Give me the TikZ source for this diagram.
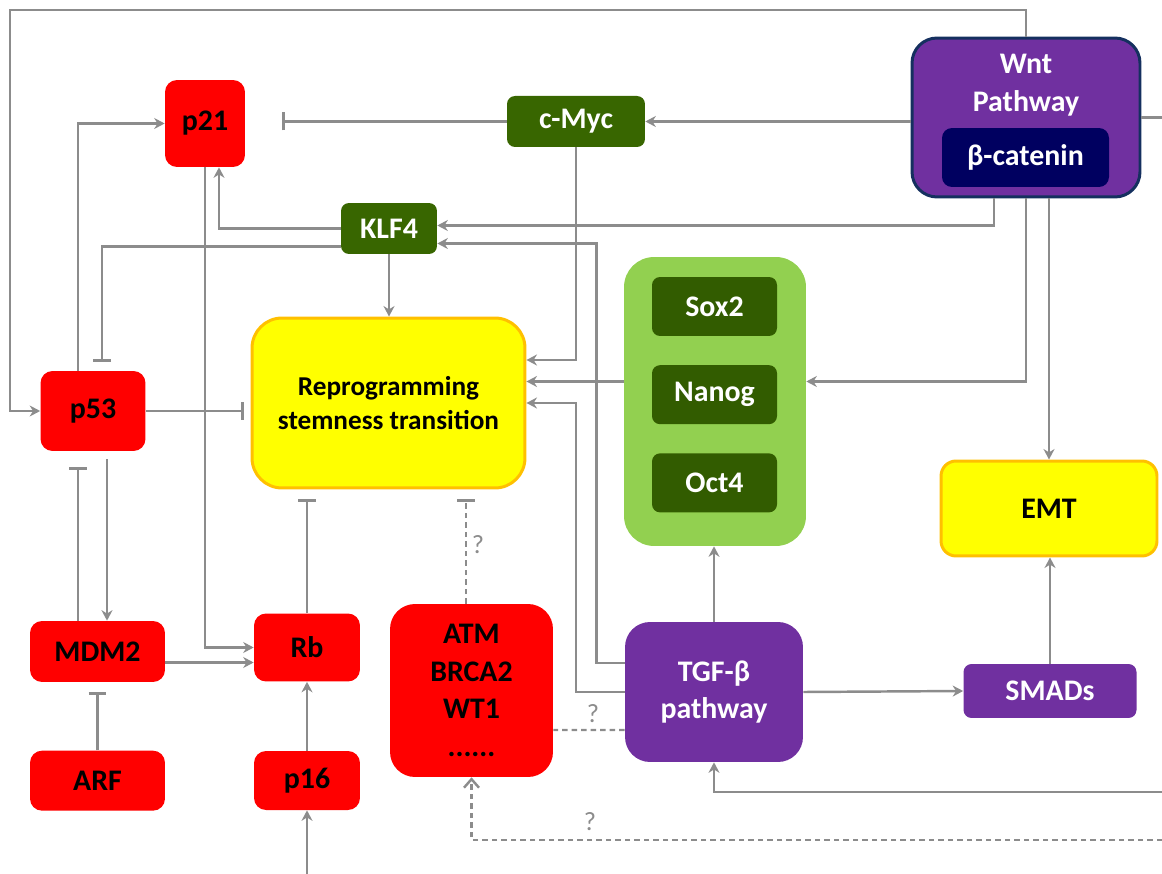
\documentclass[tikz,border=0pt]{standalone}
\usepackage{fontspec}
\setmainfont{Carlito}
\usetikzlibrary{positioning, arrows.meta, calc}
\definecolor{genered}{HTML}{FF0000}
\definecolor{leafgreen}{HTML}{386600}
\definecolor{stemgreen}{HTML}{92D050}
\definecolor{pathpurple}{HTML}{7030A0}
\definecolor{wntnavy}{HTML}{15305F}
\definecolor{catnavy}{HTML}{000060}
\definecolor{reproyellow}{HTML}{FFFF00}
\definecolor{reproorange}{HTML}{FFC000}
\definecolor{wiregray}{HTML}{8C8C8C}
\tikzset{
>={Stealth[length=2.1mm,width=2.2mm]}, % filled heads for activation
box/.style={rectangle, rounded corners=0.24cm, inner sep=0pt, align=center, font=\fontsize{17}{21.5}\selectfont\bfseries}, % base for every box
gene/.style={box, fill=genered, text=black}, % red gene boxes
factor/.style={box, fill=leafgreen, text=white, rounded corners=0.16cm}, % dark green factors
pathway/.style={box, fill=pathpurple, text=white}, % purple pathways
outcome/.style={box, fill=reproyellow, draw=reproorange, line width=1.7pt, text=black}, % yellow outcomes
wire/.style={draw=wiregray, line width=1.4pt}, % all connectors
act/.style={wire, ->}, % activation
inh/.style={wire, -{Bar[width=3.6mm]}}, % inhibition
unsure/.style={wire, dash pattern=on 1.1mm off 0.8mm}, % uncertain link
qmark/.style={text=wiregray, font=\fontsize{15}{15}\selectfont}, % question marks
}

\begin{document}
\begin{tikzpicture}[x=0.02cm, y=-0.02cm]
        \useasboundingbox (0,0) rectangle (1162,874);

        % Top row
        \node[gene, minimum width=1.6cm, minimum height=1.74cm] (p21) at (205,123.5) {p21};
        \node[factor, minimum width=2.76cm, minimum height=1.02cm] (cmyc) at (576,121.5) {c-Myc};
        \node[pathway, draw=wntnavy, line width=1.7pt, rounded corners=0.5cm, minimum width=4.56cm, minimum height=3.18cm] (wnt) at (1026,117.5) {};
        \node[box, text=white] (wnttxt) at (1026,85) {Wnt\\Pathway};
        \node[box, fill=catnavy, text=white, rounded corners=0.2cm, minimum width=3.34cm, minimum height=1.18cm] (bcat) at (1025.5,157.5) {β-catenin};
        \node[factor, minimum width=1.92cm, minimum height=1.02cm] (klf4) at (389,228.5) {KLF4};

        % Middle row
        \node[gene, minimum width=2.1cm, minimum height=1.6cm] (p53) at (93,411) {p53};
        \node[outcome, rounded corners=0.6cm, minimum width=5.46cm, minimum height=3.4cm, font=\fontsize{15.5}{19}\selectfont\bfseries] (repro) at (388.5,403) {Reprogramming\\stemness transition};
        \node[box, fill=stemgreen, rounded corners=0.6cm, minimum width=3.64cm, minimum height=5.78cm] (stem) at (715,401.5) {};
        \node[factor, fill=leafgreen!90!black, minimum width=2.5cm, minimum height=1.18cm] (sox2) at (714.5,306.5) {Sox2};
        \node[factor, fill=leafgreen!90!black, minimum width=2.5cm, minimum height=1.18cm, below=0.57cm of sox2] (nanog) {Nanog};
        \node[factor, fill=leafgreen!90!black, minimum width=2.5cm, minimum height=1.18cm, below=0.57cm of nanog] (oct4) {Oct4};
        \node[outcome, rounded corners=0.3cm, minimum width=4.32cm, minimum height=1.9cm] (emt) at (1049,508.5) {EMT};

        % Bottom rows
        \node[gene, minimum width=2.7cm, minimum height=1.22cm] (mdm2) at (97.5,651.5) {MDM2};
        \node[gene, minimum width=2.7cm, minimum height=1.2cm, below=1.36cm of mdm2] (arf) {ARF};
        \node[gene, minimum width=2.12cm, minimum height=1.36cm] (rb) at (307,647.5) {Rb};
        \node[gene, minimum width=2.12cm, minimum height=1.18cm] (p16) at (307,780.5) {p16};
        \node[gene, rounded corners=0.5cm, minimum width=3.26cm, minimum height=3.46cm] (atm) at (471.5,690.5) {ATM\\BRCA2\\WT1\\......};
        \node[pathway, rounded corners=0.5cm, minimum width=3.56cm, minimum height=2.8cm] (tgf) at (714,692) {TGF-β\\pathway};
        \node[pathway, rounded corners=0.16cm, minimum width=3.46cm, minimum height=1.08cm] (smads) at (1050,691) {SMADs};

        % loose ends at the border
        \coordinate (cornerTL) at (10,10);
        \coordinate (wntOut) at (1162,117.5);
        \coordinate (tgfIn) at (1162,792);
        \coordinate (atmIn) at (1162,840);
        \coordinate (p16In) at (307,874);

        % Wnt links
        \draw[act] (wnt.north) |- (cornerTL) |- (p53.west);
        \draw[act] (wnt.west |- cmyc.east) -- (cmyc.east);
        \draw[wire] (wnt.east) -- (wntOut);
        \draw[act] ($(wnt.south)+(-32,0)$) |- ($(klf4.east)+(0,-3)$);
        \draw[act] (wnt.south) |- ($(stem.east)+(0,-20)$);
        \draw[act] (wnt.south -| emt.north) -- (emt.north);

        % c-Myc and KLF4
        \draw[inh] (cmyc.west) -- ($(cmyc.west -| p21.east)+(37,0)$);
        \draw[act] (cmyc.south) |- ($(repro.east)+(0,-43)$);
        \draw[act] (klf4.west) -| ($(p21.south)+(14,0)$);
        \draw[inh] ($(klf4.west)+(0,18)$) -| ($(p53.north)+(9,-9)$);
        \draw[act] (klf4.south) -- (klf4.south |- repro.north);

        % stemness factors and TGF-beta
        \draw[act] ($(stem.west)+(0,-20)$) -- ($(stem.west -| repro.east)+(0,-20)$);
        \draw[act] (tgf.north) -- (tgf.north |- stem.south);
        \draw[act] ($(tgf.west)+(0,-29)$) -- ++(-28,0) |- ($(klf4.east)+(0,15)$);
        \draw[act] (tgf.west) -- (tgf.west -| cmyc.south) |- (repro.east);
        \draw[act] (tgf.east) -- (smads.west);
        \draw[act] (smads.north) -- (smads.north |- emt.south);
        \draw[act] (tgfIn) -| (tgf.south);

        % uncertain links
        \draw[unsure, -{Straight Barb[length=1.7mm,width=3mm]}] (atmIn) -| (atm.south);
        \draw[unsure] ($(tgf.west)+(0,38)$) -- ($(atm.east)+(0,39.5)$);
        \draw[unsure, -{Bar[width=3.6mm]}] ($(atm.north)+(-5.5,0)$) -- ($(atm.north |- repro.south)+(-5.5,10)$);
        \node[qmark] (qtop) at (478,545) {?};
        \node[qmark] (qmid) at (593,714) {?};
        \node[qmark] (qlow) at (590,822) {?};

        % p53 / Rb axis
        \draw[inh] (p53.east) -- ($(p53.east -| repro.west)+(-7,0)$);
        \draw[act] ($(p53.north)+(-15,0)$) |- (p21.west);
        \draw[act] ($(p53.south)+(14,8)$) -- ($(p53.south |- mdm2.north)+(14,0)$);
        \draw[inh] ($(mdm2.north)+(-19.5,0)$) -- ($(mdm2.north |- p53.south)+(-19.5,16)$);
        \draw[act] (p21.south) |- (rb.west);
        \draw[act] ($(mdm2.east)+(0,11)$) -- ($(mdm2.east -| rb.west)+(0,11)$);
        \draw[inh] (arf.north) -- ($(mdm2.south)+(0,10)$);
        \draw[act] (p16.north) -- (rb.south);
        \draw[act] (p16In) -- (p16.south);
        \draw[inh] (rb.north) -- ($(rb.north |- repro.south)+(0,10)$);
    \end{tikzpicture}
\end{document}
